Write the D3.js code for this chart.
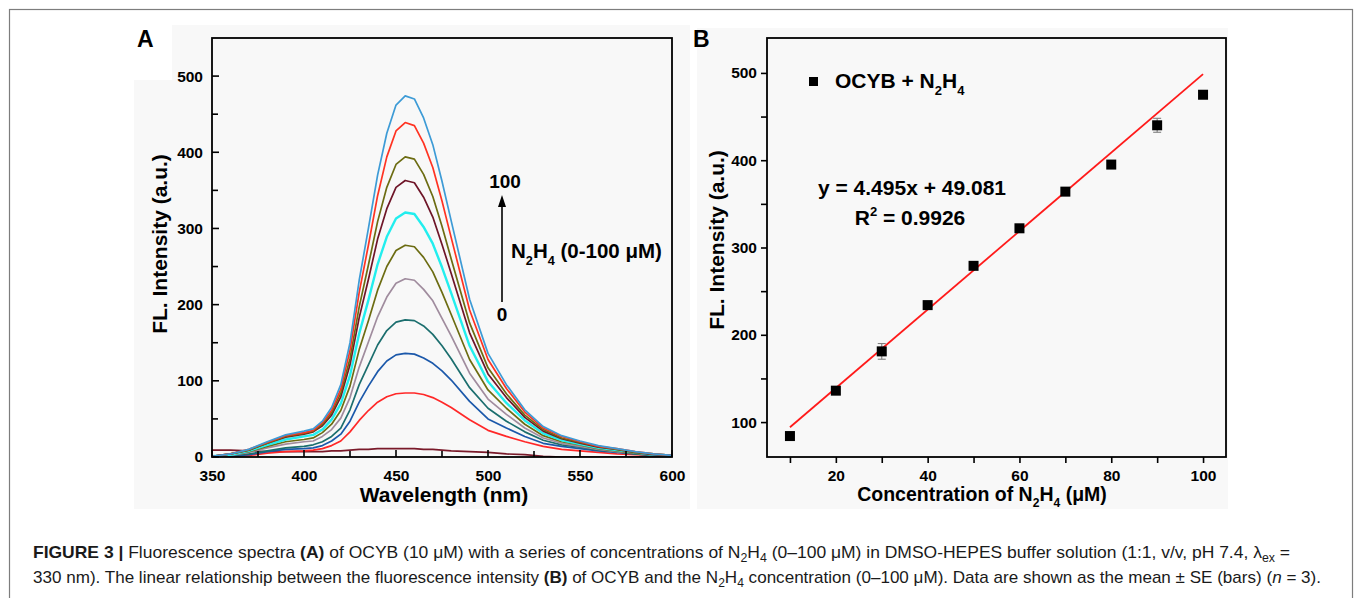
<!DOCTYPE html>
<html>
<head>
<meta charset="utf-8">
<script src="https://cdn.jsdelivr.net/npm/d3@7"></script>
<style>
  body { margin: 0; background: #fff; }
  svg { display: block; font-family: 'Liberation Sans', Arial, sans-serif; }
</style>
</head>
<body>
<div id="fig"></div>
<script>
// ---- panel A: emission spectra (one array per N2H4 concentration)
const wavelengths = [350,360,370,380,390,400,405,410,415,420,425,430,435,440,445,450,455,460,465,470,475,480,490,500,510,520,530,540,550,560,570,580,590,600];
const concentrations = [0,10,20,30,40,50,60,70,80,90,100];
const fl0   = [9,9,8,7,7,7,7,7,8,8,9,10,10,11,11,11,11,11,10,10,9,8,7,6,4,3,1,0,0,0,0,0,0,0];
const fl10  = [0,1,2,5,7,8,9,11,15,21,33,48,61,72,79,83,84,84,82,78,72,65,49,35,27,20,14,10,8,6,4,3,2,1];
const fl20  = [0,1,3,7,10,11,12,15,21,30,47,72,93,112,126,134,136,135,130,123,113,101,73,50,38,27,18,14,11,8,6,4,2,1];
const fl30  = [0,2,4,8,12,14,16,20,27,38,62,95,121,147,166,177,180,179,172,161,146,129,91,64,47,33,22,16,13,9,7,4,2,1];
const fl40  = [1,2,6,12,17,20,21,27,36,51,78,118,151,184,210,228,234,232,220,205,182,159,110,76,56,38,25,18,14,10,7,5,3,1];
const fl50  = [1,3,7,14,20,23,25,32,43,61,93,141,179,219,250,271,278,276,262,243,216,187,128,88,64,43,28,20,16,11,8,5,3,2];
const fl60  = [1,3,8,16,23,27,29,36,49,70,107,162,206,253,289,313,321,319,302,280,249,215,146,99,71,48,31,22,17,12,9,6,3,2];
const fl70  = [1,4,9,18,26,30,33,41,55,79,121,183,233,286,326,354,363,360,341,315,279,241,163,109,78,52,34,24,18,13,10,6,3,2];
const fl80  = [1,4,9,18,27,31,34,43,58,84,129,197,252,309,354,384,394,391,371,342,303,260,176,117,83,55,36,25,19,14,10,6,4,2];
const fl90  = [1,4,10,19,28,32,35,45,61,89,140,216,278,343,394,428,439,435,412,380,336,288,193,128,90,59,38,27,20,14,11,7,4,2];
const fl100 = [1,4,10,20,29,34,37,47,65,95,150,232,300,370,425,462,474,470,445,410,362,310,207,136,95,62,40,28,21,15,11,7,4,2];
const spectra = [fl0, fl10, fl20, fl30, fl40, fl50, fl60, fl70, fl80, fl90, fl100];
const lineColors = ['#7a1a2a','#ff2828','#1b58aa','#1b6e6e','#a08c9e','#6c6c12','#22eeee','#6e1528','#6c6c12','#ff3322','#3d9bd6'];
const xTicksA = [350,400,450,500,550,600];
const yTicksA = [0,100,200,300,400,500];
const xMinorA = [375,425,475,525,575];
const yMinorA = [50,150,250,350,450];

// ---- panel B: calibration
const concB = [10,20,30,40,50,60,70,80,90,100];
const intensityB = [84,136,181,234,279,322,364,395,440,475];
const errorB = [3,2,9,2,3,2,2,2,8,2];
const slope = 4.495, intercept = 49.081;
const xTicksB = [10,20,30,40,50,60,70,80,90,100];
const yTicksB = [100,150,200,250,300,350,400,450,500];

const svg = d3.select('#fig').append('svg').attr('width', 1355).attr('height', 598);

svg.append('rect').attr('x', 9.5).attr('y', 9.5).attr('width', 1343).attr('height', 700)
  .attr('fill', 'none').attr('stroke', '#7d7d7d').attr('stroke-width', 1.2);
svg.append('path').attr('d', 'M172,25H690V509H134V80H172Z').attr('fill', '#f8f8f8');
svg.append('rect').attr('x', 697).attr('y', 28).attr('width', 531).attr('height', 481).attr('fill', '#f8f8f8');

// text with sub/superscripts: parts = [[text, 'sub'|'sup'|undefined], ...]
function richText(g, x, y, parts, size, anchor) {
  const t = g.append('text').attr('x', x).attr('y', y)
    .attr('font-size', size).attr('font-weight', 'bold')
    .attr('text-anchor', anchor || 'start');
  let shift = 0;
  parts.forEach(p => {
    const s = p[1] === 'sub' ? size * 0.32 : p[1] === 'sup' ? -size * 0.42 : 0;
    t.append('tspan').attr('dy', s - shift)
      .attr('font-size', p[1] ? size * 0.62 : size).text(p[0]);
    shift = s;
  });
  return t;
}

function styleAxis(g, size) {
  g.select('.domain').remove();
  g.selectAll('.tick line').attr('stroke', '#000').attr('stroke-width', 1.6);
  g.selectAll('.tick text').attr('font-size', size).attr('font-weight', 'bold').attr('fill', '#000');
}

// ================= Panel A =================
const xA = d3.scaleLinear().domain([350, 600]).range([212, 672]);
const yA = d3.scaleLinear().domain([0, 550]).range([457, 38]);

svg.append('clipPath').attr('id', 'clipA').append('rect')
  .attr('x', 212).attr('y', 38).attr('width', 460).attr('height', 419);

const lineA = d3.line()
  .x((d, i) => xA(wavelengths[i]))
  .y(d => yA(d));

svg.append('g').attr('clip-path', 'url(#clipA)')
  .selectAll('path')
  .data(spectra)
  .enter()
  .append('path')
  .attr('d', lineA)
  .attr('fill', 'none')
  .attr('stroke', (d, i) => lineColors[i])
  .attr('stroke-width', (d, i) => concentrations[i] === 60 ? 2.4 : 1.7)
  .attr('stroke-linejoin', 'round');

// tick labels
svg.append('g').attr('transform', 'translate(0,457)')
  .call(d3.axisBottom(xA).tickValues(xTicksA).tickSize(0).tickPadding(13).tickFormat(d3.format('d')))
  .call(g => styleAxis(g, 15.5));
svg.append('g').attr('transform', 'translate(212,0)')
  .call(d3.axisLeft(yA).tickValues(yTicksA).tickSize(0).tickPadding(9))
  .call(g => styleAxis(g, 15.5));

// inward tick marks
const ticksA = svg.append('g').attr('stroke', '#000').attr('stroke-width', 1.6);
ticksA.selectAll('.tx')
  .data(xTicksA.concat(xMinorA))
  .enter()
  .append('line')
  .attr('x1', d => xA(d)).attr('x2', d => xA(d))
  .attr('y1', 457).attr('y2', d => xTicksA.includes(d) ? 450 : 451);
ticksA.selectAll('.ty')
  .data(yTicksA.concat(yMinorA))
  .enter()
  .append('line')
  .attr('y1', d => yA(d)).attr('y2', d => yA(d))
  .attr('x1', 212).attr('x2', d => yTicksA.includes(d) ? 219 : 218);

svg.append('rect').attr('x', 212).attr('y', 38).attr('width', 460).attr('height', 419)
  .attr('fill', 'none').attr('stroke', '#000').attr('stroke-width', 1.8);

svg.append('text').attr('x', 137).attr('y', 47).text('A')
  .attr('font-size', 23).attr('font-weight', 'bold');

svg.append('text')
  .attr('transform', 'translate(167,' + 244 + ') rotate(-90)')
  .attr('text-anchor', 'middle')
  .attr('font-size', 21).attr('font-weight', 'bold')
  .text('FL. Intensity (a.u.)');

svg.append('text').attr('x', 444).attr('y', 502).attr('text-anchor', 'middle')
  .attr('font-size', 21).attr('font-weight', 'bold')
  .text('Wavelength (nm)');

// concentration arrow
svg.append('line').attr('x1', 502).attr('x2', 502).attr('y1', 302).attr('y2', 205)
  .attr('stroke', '#000').attr('stroke-width', 1.6);
svg.append('path').attr('d', 'M502,195L506,207L498,207Z').attr('fill', '#000');
svg.append('text').attr('x', 505).attr('y', 188).attr('text-anchor', 'middle')
  .attr('font-size', 19).attr('font-weight', 'bold').text('100');
svg.append('text').attr('x', 502).attr('y', 321).attr('text-anchor', 'middle')
  .attr('font-size', 19).attr('font-weight', 'bold').text('0');
richText(svg, 511, 258, [['N'], ['2', 'sub'], ['H'], ['4', 'sub'], [' (0-100 \u03BCM)']], 20.5);

// ================= Panel B =================
const xB = d3.scaleLinear().domain([5, 105]).range([767, 1226]);
const yB = d3.scaleLinear().domain([60, 540]).range([457, 38]);

svg.append('g').attr('transform', 'translate(0,457)')
  .call(d3.axisBottom(xB).tickValues(xTicksB).tickSizeInner(6).tickSizeOuter(0).tickPadding(7)
    .tickFormat(d => d % 20 === 0 ? d : ''))
  .call(g => styleAxis(g, 15.5));
svg.append('g').attr('transform', 'translate(767,0)')
  .call(d3.axisLeft(yB).tickValues(yTicksB).tickSizeInner(6).tickSizeOuter(0).tickPadding(4)
    .tickFormat(d => d % 100 === 0 ? d : ''))
  .call(g => styleAxis(g, 15.5));

svg.append('rect').attr('x', 767).attr('y', 38).attr('width', 459).attr('height', 419)
  .attr('fill', 'none').attr('stroke', '#000').attr('stroke-width', 1.8);

// fitted line
svg.append('path')
  .datum([10, 100])
  .attr('d', d3.line().x(d => xB(d)).y(d => yB(slope * d + intercept)))
  .attr('stroke', '#ff1a1a').attr('stroke-width', 1.8).attr('fill', 'none');

// error bars
const eb = svg.append('g').attr('stroke', '#808080').attr('stroke-width', 1.1);
concB.forEach((c, i) => {
  const x = xB(c), y1 = yB(intensityB[i] - errorB[i]), y2 = yB(intensityB[i] + errorB[i]);
  eb.append('line').attr('x1', x).attr('x2', x).attr('y1', y1).attr('y2', y2);
  eb.append('line').attr('x1', x - 4).attr('x2', x + 4).attr('y1', y1).attr('y2', y1);
  eb.append('line').attr('x1', x - 4).attr('x2', x + 4).attr('y1', y2).attr('y2', y2);
});

svg.append('g').selectAll('rect')
  .data(concB)
  .enter()
  .append('rect')
  .attr('x', d => xB(d) - 5)
  .attr('y', (d, i) => yB(intensityB[i]) - 5)
  .attr('width', 10).attr('height', 10)
  .attr('fill', '#000');

svg.append('text').attr('x', 693).attr('y', 47).text('B')
  .attr('font-size', 23).attr('font-weight', 'bold');

svg.append('text')
  .attr('transform', 'translate(724,' + 240 + ') rotate(-90)')
  .attr('text-anchor', 'middle')
  .attr('font-size', 21).attr('font-weight', 'bold')
  .text('FL. Intensity (a.u.)');

richText(svg, 982, 501, [['Concentration of N'], ['2', 'sub'], ['H'], ['4', 'sub'], [' (\u03BCM)']], 19.5, 'middle');

// legend + equation
svg.append('rect').attr('x', 809).attr('y', 77).attr('width', 9).attr('height', 9).attr('fill', '#000');
richText(svg, 835, 88, [['OCYB + N'], ['2', 'sub'], ['H'], ['4', 'sub']], 21);
richText(svg, 912, 195, [['y = 4.495x + 49.081']], 21, 'middle');
richText(svg, 910, 225, [['R'], ['2', 'sup'], [' = 0.9926']], 21, 'middle');

// ================= caption =================
function caption(x, y, parts, len) {
  const t = svg.append('text').attr('x', x).attr('y', y).attr('font-size', 17)
    .attr('fill', '#1a1a1a')
    .attr('textLength', len).attr('lengthAdjust', 'spacingAndGlyphs');
  let shift = 0;
  parts.forEach(p => {
    const s = p[1] === 'sub' ? 4 : 0;
    const ts = t.append('tspan').attr('dy', s - shift).text(p[0]);
    if (p[1] === 'sub') ts.attr('font-size', 12);
    if (p[1] === 'b') ts.attr('font-weight', 'bold');
    if (p[1] === 'i') ts.attr('font-style', 'italic');
    shift = s;
  });
}
caption(33, 558, [
  ['FIGURE 3 | ', 'b'], ['Fluorescence spectra '], ['(A)', 'b'],
  [' of OCYB (10 \u03BCM) with a series of concentrations of N'], ['2', 'sub'], ['H'], ['4', 'sub'],
  [' (0\u2013100 \u03BCM) in DMSO-HEPES buffer solution (1:1, v/v, pH 7.4, \u03BB'], ['ex', 'sub'], [' =']
], 1257);
caption(33, 583, [
  ['330 nm). The linear relationship between the fluorescence intensity '], ['(B)', 'b'],
  [' of OCYB and the N'], ['2', 'sub'], ['H'], ['4', 'sub'],
  [' concentration (0\u2013100 \u03BCM). Data are shown as the mean \u00B1 SE (bars) ('], ['n', 'i'], [' = 3).']
], 1288);
</script>
</body>
</html>
